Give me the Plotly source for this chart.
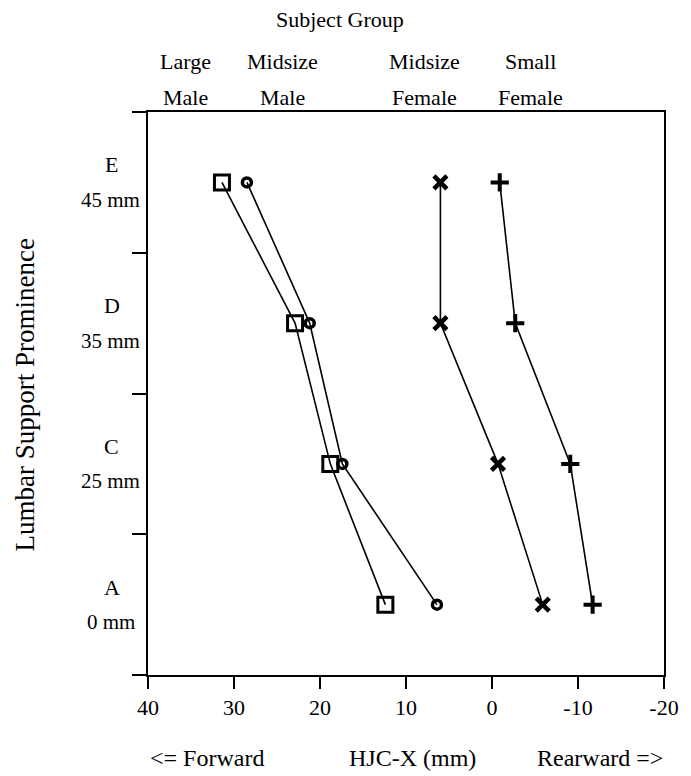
import plotly.graph_objects as go

# Data
level_pos = [0, 1, 2, 3]
level_letters = ["A", "C", "D", "E"]
level_mm = ["0 mm", "25 mm", "35 mm", "45 mm"]

large_male = [12.4, 18.8, 22.9, 31.4]
midsize_male = [6.4, 17.4, 21.2, 28.5]
midsize_female = [-5.9, -0.7, 6.0, 6.0]
small_female = [-11.7, -9.1, -2.7, -0.9]

x_ticks = [40, 30, 20, 10, 0, -10, -20]
x_ticktext = ["40", "30", "20", "10", "0", "-10", "-20"]

group_line1 = ["Large", "Midsize", "Midsize", "Small"]
group_line2 = ["Male", "Male", "Female", "Female"]
group_x = [35.6, 24.4, 7.9, -4.5]

FONT = "Liberation Serif"

fig = go.Figure()

series = [
    (large_male, "square-open", 15, 3),
    (midsize_male, "circle-open", 9, 3.5),
    (midsize_female, "x-thin", 13, 4.5),
    (small_female, "cross-thin", 13, 4),
]
for vals, sym, size, lw in series:
    fig.add_trace(go.Scatter(
        x=vals, y=level_pos, mode="lines+markers",
        line=dict(color="black", width=1.6),
        marker=dict(symbol=sym, size=size, color="black",
                    line=dict(color="black", width=lw)),
        showlegend=False,
    ))

fig.update_xaxes(
    range=[40, -20], tickvals=x_ticks, ticktext=x_ticktext,
    ticks="outside", ticklen=12, tickwidth=2, tickcolor="black",
    showline=True, linecolor="black", linewidth=2, mirror=True,
    showgrid=False, zeroline=False,
    tickfont=dict(family=FONT, size=22, color="black"),
)
fig.update_yaxes(
    range=[-0.5, 3.5], tickvals=[-0.5, 0.5, 1.5, 2.5, 3.5],
    ticktext=["", "", "", "", ""],
    ticks="outside", ticklen=14, tickwidth=2, tickcolor="black",
    showline=True, linecolor="black", linewidth=2, mirror=True,
    showgrid=False, zeroline=False,
)

def txt(x, xref, y, yref, text, size, angle=0):
    return dict(x=x, xref=xref, y=y, yref=yref, text=text, textangle=angle,
                showarrow=False, xanchor="center", yanchor="middle",
                font=dict(family=FONT, size=size, color="black"))

ann = []
for pos, l1, l2 in zip(level_pos, level_letters, level_mm):
    ann.append(txt(-0.070, "paper", pos + 0.124, "y", l1, 22))
    ann.append(txt(-0.072, "paper", pos - 0.124, "y", l2, 21))
for l1, l2, xv in zip(group_line1, group_line2, group_x):
    ann.append(txt(xv, "x", 1.089, "paper", l1, 22))
    ann.append(txt(xv, "x", 1.025, "paper", l2, 22))
ann.append(txt(17.7, "x", 1.165, "paper", "Subject Group", 22))
for lab, xv in [("<= Forward", 33.1), ("HJC-X (mm)", 9.3), ("Rearward =>", -12.6)]:
    ann.append(txt(xv, "x", -0.147, "paper", lab, 24))
ann.append(txt(-0.238, "paper", 0.497, "paper", "Lumbar Support Prominence", 27, -90))

fig.update_layout(
    width=683, height=768,
    margin=dict(l=140, r=27, t=104, b=101),
    plot_bgcolor="white", paper_bgcolor="white",
    annotations=ann,
    font=dict(family=FONT, size=22, color="black"),
)

fig.write_html("out.html")
